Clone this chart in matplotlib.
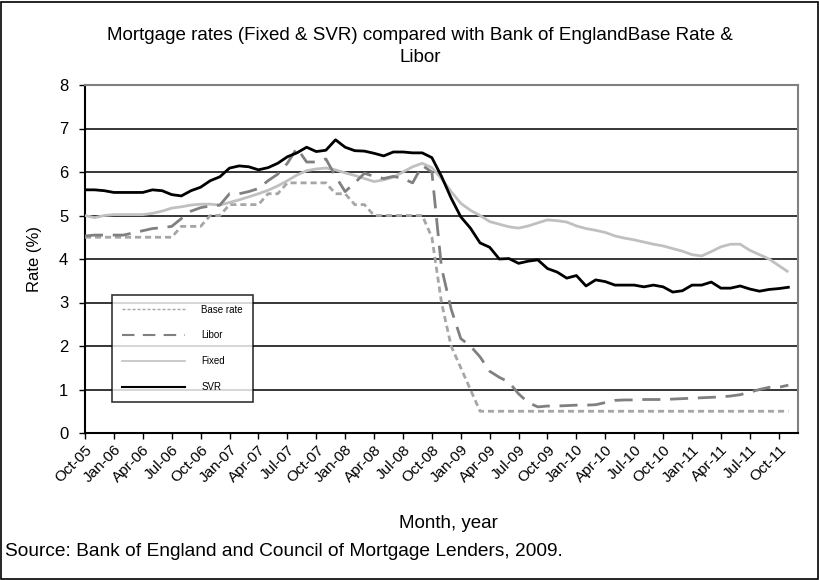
import matplotlib
matplotlib.use("Agg")
import matplotlib.pyplot as plt
from matplotlib.lines import Line2D
from matplotlib.patches import Rectangle
import numpy as np

plt.rcParams['font.family'] = ['Liberation Sans', 'DejaVu Sans']

# Monthly, Oct-05 .. Nov-11
months = ["Oct-05", "Nov-05", "Dec-05", "Jan-06", "Feb-06", "Mar-06", "Apr-06", "May-06", "Jun-06",
          "Jul-06", "Aug-06", "Sep-06", "Oct-06", "Nov-06", "Dec-06", "Jan-07", "Feb-07", "Mar-07",
          "Apr-07", "May-07", "Jun-07", "Jul-07", "Aug-07", "Sep-07", "Oct-07", "Nov-07", "Dec-07",
          "Jan-08", "Feb-08", "Mar-08", "Apr-08", "May-08", "Jun-08", "Jul-08", "Aug-08", "Sep-08",
          "Oct-08", "Nov-08", "Dec-08", "Jan-09", "Feb-09", "Mar-09", "Apr-09", "May-09", "Jun-09",
          "Jul-09", "Aug-09", "Sep-09", "Oct-09", "Nov-09", "Dec-09", "Jan-10", "Feb-10", "Mar-10",
          "Apr-10", "May-10", "Jun-10", "Jul-10", "Aug-10", "Sep-10", "Oct-10", "Nov-10", "Dec-10",
          "Jan-11", "Feb-11", "Mar-11", "Apr-11", "May-11", "Jun-11", "Jul-11", "Aug-11", "Sep-11",
          "Oct-11", "Nov-11"]

base_rate = [4.5, 4.5, 4.5, 4.5, 4.5, 4.5, 4.5, 4.5, 4.5,
             4.5, 4.75, 4.75, 4.75, 5.0, 5.0, 5.25, 5.25, 5.25,
             5.25, 5.5, 5.5, 5.75, 5.75, 5.75, 5.75, 5.75, 5.5,
             5.5, 5.25, 5.25, 5.0, 5.0, 5.0, 5.0, 5.0, 5.0,
             4.5, 3.0, 2.0, 1.5, 1.0, 0.5, 0.5, 0.5, 0.5,
             0.5, 0.5, 0.5, 0.5, 0.5, 0.5, 0.5, 0.5, 0.5,
             0.5, 0.5, 0.5, 0.5, 0.5, 0.5, 0.5, 0.5, 0.5,
             0.5, 0.5, 0.5, 0.5, 0.5, 0.5, 0.5, 0.5, 0.5,
             0.5, 0.5]

libor = [4.53, 4.55, 4.55, 4.55, 4.55, 4.6, 4.65, 4.7, 4.72,
         4.75, 4.93, 5.1, 5.18, 5.22, 5.24, 5.5, 5.5, 5.55,
         5.62, 5.8, 5.95, 6.2, 6.55, 6.23, 6.23, 6.3, 5.9,
         5.55, 5.75, 5.97, 5.9, 5.85, 5.9, 5.85, 5.75, 6.15,
         6.0, 3.8, 2.85, 2.17, 2.0, 1.75, 1.42, 1.28, 1.17,
         0.9, 0.7, 0.6, 0.62, 0.62, 0.63, 0.64, 0.64, 0.65,
         0.7, 0.75, 0.76, 0.76, 0.77, 0.77, 0.77, 0.78, 0.79,
         0.8, 0.81, 0.82, 0.83, 0.85, 0.88, 0.94, 1.0, 1.05,
         1.05, 1.1]

fixed = [5.0, 4.95, 5.0, 5.02, 5.02, 5.02, 5.02, 5.05, 5.1,
         5.17, 5.2, 5.24, 5.26, 5.26, 5.24, 5.3, 5.36, 5.43,
         5.5, 5.58, 5.68, 5.8, 5.93, 6.03, 6.07, 6.09, 6.05,
         5.98, 5.92, 5.85, 5.78, 5.82, 5.88, 6.0, 6.12, 6.2,
         6.1, 5.85, 5.55, 5.28, 5.12, 5.0, 4.86, 4.8, 4.74,
         4.71, 4.76, 4.83, 4.9, 4.88, 4.85, 4.76, 4.7, 4.66,
         4.61, 4.53, 4.48, 4.44, 4.39, 4.34, 4.3, 4.24, 4.18,
         4.1, 4.07, 4.17, 4.28, 4.34, 4.34, 4.2, 4.1, 4.0,
         3.85, 3.7]

svr = [5.59, 5.59, 5.57, 5.53, 5.53, 5.53, 5.53, 5.59, 5.57,
       5.48, 5.45, 5.57, 5.65, 5.8, 5.89, 6.09, 6.14, 6.12,
       6.05, 6.1, 6.2, 6.35, 6.44, 6.57, 6.47, 6.5, 6.74,
       6.57, 6.49, 6.48, 6.43, 6.37, 6.46, 6.46, 6.44, 6.44,
       6.33, 5.9, 5.4, 4.97, 4.71, 4.37, 4.27, 4.0, 4.01,
       3.9, 3.95, 3.98, 3.78, 3.7, 3.56, 3.62, 3.38, 3.52,
       3.48, 3.4, 3.4, 3.4, 3.36, 3.4, 3.36, 3.24, 3.27,
       3.4, 3.4, 3.47, 3.33, 3.33, 3.38, 3.31, 3.26, 3.3,
       3.32, 3.35]

series_names = ["Base rate", "Libor", "Fixed", "SVR"]
y_ticks = [0, 1, 2, 3, 4, 5, 6, 7, 8]

fig = plt.figure(figsize=(8.2, 5.8), dpi=100)
ax = fig.add_axes([85/820, 1-433/580, (798-85)/820, (433-85)/580])

x = np.arange(len(months))
c_base, c_libor, c_fixed, c_svr = "#A6A6A6", "#808080", "#C0C0C0", "#000000"
lw = 2.0
ax.plot(x, fixed, color=c_fixed, lw=lw, solid_capstyle='butt', zorder=3)
ax.plot(x, base_rate, color=c_base, lw=lw, dashes=(2.2, 1.4), zorder=4)
ax.plot(x, libor, color=c_libor, lw=lw, dashes=(6.5, 3.5), zorder=5)
ax.plot(x, svr, color=c_svr, lw=lw, zorder=6)

ax.set_xlim(0, len(months))
ax.set_ylim(0, 8)
ax.set_yticks(y_ticks)
ax.set_yticklabels([str(v) for v in y_ticks], fontsize=12)
for v in y_ticks[1:-1]:
    ax.axhline(v, color="black", lw=1.1, zorder=1)

tick_idx = list(range(0, len(months), 3))
ax.set_xticks(tick_idx)
ax.set_xticklabels([months[i] for i in tick_idx], rotation=45, ha='right',
                   rotation_mode='anchor', fontsize=11)
ax.tick_params(axis='x', length=4, width=1, direction='out', pad=3)
ax.tick_params(axis='y', length=4, width=1, direction='out', pad=8)

for s in ['top', 'right']:
    ax.spines[s].set_color('#808080')
    ax.spines[s].set_linewidth(1.5)
for s in ['left', 'bottom']:
    ax.spines[s].set_color('black')
    ax.spines[s].set_linewidth(1.5)

ax.set_ylabel("Rate (%)", fontsize=12, labelpad=12)

handles = [Line2D([], [], color=c_base, lw=1, dashes=(2.2, 1.4)),
           Line2D([], [], color=c_libor, lw=1.5, dashes=(6, 4)),
           Line2D([], [], color=c_fixed, lw=1.2),
           Line2D([], [], color=c_svr, lw=1.5)]
leg = ax.legend(handles, series_names, loc='upper left',
                bbox_to_anchor=((112-85)/713, (433-295)/348), fontsize=7,
                frameon=True, fancybox=False, edgecolor='black',
                handlelength=6.5, handletextpad=1.7, labelspacing=1.62,
                borderpad=1.0, borderaxespad=0)
leg.get_frame().set_linewidth(1.2)
leg.set_zorder(10)

fig.text(420/820, 1-35/580, "Mortgage rates (Fixed & SVR) compared with Bank of EnglandBase Rate &",
         ha='center', va='center', fontsize=13.5)
fig.text(420/820, 1-57/580, "Libor", ha='center', va='center', fontsize=13.5)
fig.text(448/820, 1-523/580, "Month, year", ha='center', va='center', fontsize=13.5)
fig.text(5/820, 1-552/580, "Source: Bank of England and Council of Mortgage Lenders, 2009.",
         ha='left', va='center', fontsize=13.8)

fig.patches.append(Rectangle((1.5/820, 1.5/580), 1-3/820, 1-3/580, transform=fig.transFigure,
                             fill=False, edgecolor='black', lw=1.2))

fig.savefig("out.png", dpi=100)
